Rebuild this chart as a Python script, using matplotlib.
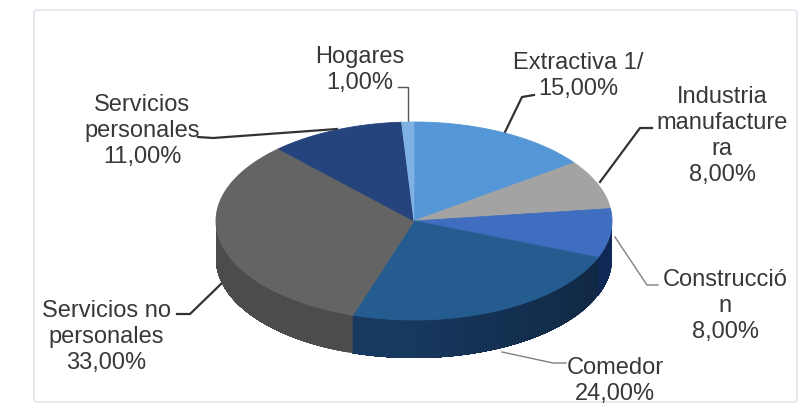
import matplotlib
matplotlib.use('Agg')
import matplotlib.pyplot as plt
import numpy as np
from matplotlib.colors import to_rgb
from matplotlib.patches import FancyBboxPatch, Polygon

names = ['Extractiva 1/', 'Industria\nmanufacture\nra', 'Construcció\nn', 'Comedor',
         'Servicios no\npersonales', 'Servicios\npersonales', 'Hogares']
shares = [15, 8, 8, 24, 33, 11, 1]
top_colors = ['#5596d6', '#a3a3a3', '#3f6dbf', '#245c90', '#646464', '#25437c', '#7fb2e2']
side_colors = ['#33598a', '#606060', '#15397c', '#17385f', '#4c4c4c', '#16284a', '#4a6a88']
label_xy = [(578, 76), (722, 136), (725, 306), (615, 381), (106, 337), (142, 131), (360, 70)]
leaders = [
    [(534, 95), (522, 97), (505, 132)],
    [(652, 128), (640, 128), (600, 182)],
    [(658, 285), (647, 285), (615, 237)],
    [(566, 363), (553, 363), (502, 352)],
    [(177, 314), (190, 314), (222, 283)],
    [(198, 137), (213, 138), (337, 129)],
    [(398, 87), (408, 87), (408, 122)],
]
leader_colors = ['#333333', '#333333', '#808080', '#808080', '#333333', '#333333', '#555555']

cx, cy, rx, ry, depth = 414, 221, 198, 99, 38


def rim(a0, a1):
    # angles in degrees, clockwise from the top of the pie
    t = np.radians(np.linspace(a0, a1, max(int(a1 - a0) * 2, 2)))
    return cx + rx * np.sin(t), cy - ry * np.cos(t)


fig = plt.figure(figsize=(8.05, 4.04), dpi=100)
ax = fig.add_axes([0, 0, 1, 1])
ax.set_xlim(0, 805)
ax.set_ylim(404, 0)
ax.axis('off')

ax.add_patch(FancyBboxPatch((34, 10), 763, 392, boxstyle='round,pad=0,rounding_size=3',
                            fc='white', ec='#e4e4ee', lw=1.2))

edges = np.cumsum([0] + shares) * 3.6

# side wall first, only the part facing the viewer, darker towards the right
# each step paints to the end of the slice so no seams show between steps
for i in range(len(shares)):
    a0, a1 = max(edges[i], 90), min(edges[i + 1], 270)
    if a1 <= a0:
        continue
    for s0 in np.linspace(a0, a1, int(a1 - a0) + 2)[:-1]:
        x, y = rim(s0, a1)
        pts = np.vstack([np.column_stack([x, y]), np.column_stack([x, y + depth])[::-1]])
        shade = 1 - 0.3 * max(np.sin(np.radians(s0)), 0)
        c = tuple(v * shade for v in to_rgb(side_colors[i]))
        ax.add_patch(Polygon(pts, fc=c, ec='none', zorder=2))

for i in range(len(shares)):
    x, y = rim(edges[i], edges[i + 1])
    pts = np.vstack([[cx, cy], np.column_stack([x, y])])
    ax.add_patch(Polygon(pts, fc=top_colors[i], ec=top_colors[i], lw=0.6, zorder=3))

for i, pts in enumerate(leaders):
    xs, ys = zip(*pts)
    ax.plot(xs, ys, color=leader_colors[i], lw=1.6 if leader_colors[i] == '#333333' else 1.0, zorder=1)

for name, v, (tx, ty) in zip(names, shares, label_xy):
    pct = f'{v:.2f}%'.replace('.', ',')
    ax.text(tx, ty, f'{name}\n{pct}', ha='center', va='center', fontsize=17,
            family='Liberation Sans', color='#383838', linespacing=1.25, zorder=5)

fig.savefig('out.png', dpi=100)
